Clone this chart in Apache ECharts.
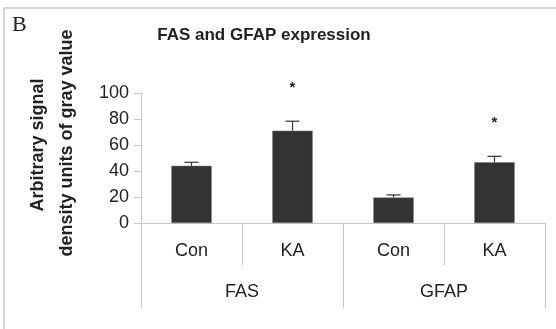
<!DOCTYPE html>
<html>
<head>
<meta charset="utf-8">
<script src="https://cdn.jsdelivr.net/npm/echarts@6/dist/echarts.min.js"></script>
<style>html,body{margin:0;padding:0;background:#fff;overflow:hidden}#c{width:556px;height:329px}</style>
</head>
<body>
<div id="c"></div>
<script>
var categories = ['Con', 'KA', 'Con', 'KA'];
var groups = ['FAS', 'GFAP'];
var values = [44, 71, 19.6, 46.7];
var errors = [2.7, 7.3, 2, 4.6];
var stars = ['', '*', '', '*'];
var yTicks = [0, 20, 40, 60, 80, 100];

var chart = echarts.init(document.getElementById('c'));
var txt = '#222';
var gridLine = '#c8c8c8';
chart.setOption({
  animation: false,
  backgroundColor: '#fff',
  title: {
    text: 'FAS and GFAP expression',
    left: 259, top: 22, textAlign: 'center',
    textStyle: { fontFamily: 'Liberation Sans, Arial', fontSize: 17, fontWeight: 'bold', color: txt }
  },
  grid: { left: 141, right: 11, top: 93, bottom: 106 },
  xAxis: [{
    type: 'category', data: categories, position: 'bottom',
    axisLine: { show: true, lineStyle: { color: gridLine, width: 1 } },
    axisTick: { show: true, length: 42, interval: 0, alignWithLabel: false, lineStyle: { color: gridLine } },
    axisLabel: { margin: 19, interval: 0, fontFamily: 'Liberation Sans, Arial', fontSize: 18, color: txt }
  }, {
    type: 'category', data: groups, position: 'bottom',
    axisLine: { show: false },
    axisTick: { show: true, length: 85, interval: 0, lineStyle: { color: gridLine } },
    axisLabel: { margin: 60, interval: 0, fontFamily: 'Liberation Sans, Arial', fontSize: 18, color: txt }
  }],
  yAxis: {
    type: 'value', min: 0, max: 100, interval: 20,
    axisLine: { show: true, lineStyle: { color: gridLine } },
    axisTick: { show: true, length: 7, lineStyle: { color: gridLine } },
    splitLine: { show: false },
    axisLabel: { margin: 12, fontFamily: 'Liberation Sans, Arial', fontSize: 18, color: txt,
      formatter: function (v) { return yTicks.indexOf(v) >= 0 ? String(v) : ''; } }
  },
  series: [{
    type: 'bar', xAxisIndex: 0, data: values, barWidth: '40%',
    itemStyle: { color: '#333', borderColor: '#777', borderWidth: 0.5 }
  }, {
    type: 'custom', xAxisIndex: 0, z: 5,
    data: values.map(function (v, i) { return [i, v, errors[i]]; }),
    renderItem: function (params, api) {
      var x = api.coord([api.value(0), 0])[0];
      var yTop = api.coord([api.value(0), api.value(1)])[1];
      var yErr = api.coord([api.value(0), api.value(1) + api.value(2)])[1];
      var s = stars[params.dataIndex];
      var children = [
        { type: 'line', shape: { x1: x, y1: yTop, x2: x, y2: yErr }, style: { stroke: '#333', lineWidth: 1.2 } },
        { type: 'line', shape: { x1: x - 7, y1: yErr, x2: x + 7, y2: yErr }, style: { stroke: '#333', lineWidth: 1.2 } }
      ];
      if (s) {
        children.push({ type: 'text', x: x, y: yErr - 33,
          style: { text: s, fill: txt, font: 'bold 15px Liberation Sans, Arial', align: 'center', verticalAlign: 'middle' } });
      }
      return { type: 'group', children: children };
    }
  }],
  graphic: [
    { type: 'rect', shape: { x: 4, y: 8, width: 1000, height: 1000 }, style: { fill: 'none', stroke: '#c8c8c8', lineWidth: 1.5 }, z: -1 },
    { type: 'text', left: 12, top: 14, style: { text: 'B', font: '22px Liberation Serif, Times New Roman', fill: txt } },
    { type: 'text', x: 38, y: 145, rotation: Math.PI / 2,
      style: { text: 'Arbitrary signal', font: 'bold 18px Liberation Sans, Arial', fill: txt, align: 'center', verticalAlign: 'middle' } },
    { type: 'text', x: 67, y: 143, rotation: Math.PI / 2,
      style: { text: 'density units of gray value', font: 'bold 18px Liberation Sans, Arial', fill: txt, align: 'center', verticalAlign: 'middle' } }
  ]
});
</script>
</body>
</html>
